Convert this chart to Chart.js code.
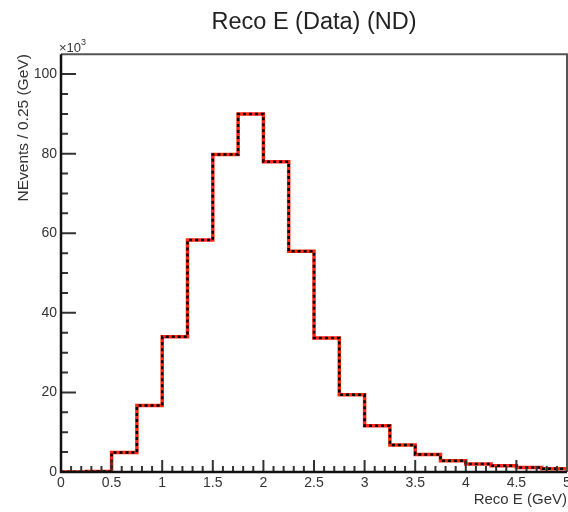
<!DOCTYPE html>
<html lang="en">

<head>
  <meta charset="UTF-8">
  <script src="https://cdn.jsdelivr.net/npm/chart.js"></script>
  <title>Reco E (Data) (ND)</title>
  <style>
    html, body { margin: 0; padding: 0; background: #fff; }
    #box { width: 568px; height: 512px; }
  </style>
</head>

<body>
  <div id="box">
    <canvas id="myChart" width="568" height="512"></canvas>
  </div>

  <script>
    // bin lower edges (GeV), 0.25 wide
    const binLow = [0, 0.25, 0.5, 0.75, 1.0, 1.25, 1.5, 1.75, 2.0, 2.25,
                    2.5, 2.75, 3.0, 3.25, 3.5, 3.75, 4.0, 4.25, 4.5, 4.75];
    const binWidth = 0.25;
    // events per bin, in units of 10^3
    const counts = [0, 0.1, 4.9, 16.7, 34.0, 58.3, 79.8, 90.0, 78.0, 55.5,
                    33.7, 19.4, 11.6, 6.8, 4.4, 2.8, 2.0, 1.6, 1.1, 0.8];

    const xMin = 0, xMax = 5;
    const yMin = 0, yMax = 105;
    const xMajor = 0.5, xMinor = 0.1;
    const yMajor = 20, yMinor = 5;

    const titleText = 'Reco E (Data) (ND)';
    const xTitle = 'Reco E (GeV)';
    const yTitle = 'NEvents / 0.25 (GeV)';

    // step points: one at each lower edge, plus closing point at the last upper edge
    const steps = binLow.map((x, i) => ({ x: x, y: counts[i] }));
    steps.push({ x: binLow[binLow.length - 1] + binWidth, y: counts[counts.length - 1] });

    const isMult = (v, m) => Math.abs(v / m - Math.round(v / m)) < 1e-6;
    const FONT = "'Liberation Sans', Helvetica, Arial, sans-serif";

    // ROOT style frame, inward ticks and x10^3 marker
    const rootFrame = {
      id: 'rootFrame',
      afterDatasetsDraw(chart) {
        const ctx = chart.ctx;
        const a = chart.chartArea;
        const xs = chart.scales.x, ys = chart.scales.y;
        ctx.save();

        // top and right frame
        ctx.strokeStyle = '#555';
        ctx.lineWidth = 2;
        ctx.beginPath();
        ctx.moveTo(a.left, a.top);
        ctx.lineTo(a.right, a.top);
        ctx.lineTo(a.right, a.bottom);
        ctx.stroke();

        // tick marks
        ctx.strokeStyle = '#333';
        ctx.lineWidth = 2;
        ctx.beginPath();
        xs.ticks.forEach(t => {
          if (t.value <= xMin || t.value >= xMax) return;
          const px = xs.getPixelForValue(t.value);
          const len = isMult(t.value, xMajor) ? 12 : 6;
          ctx.moveTo(px, a.bottom);
          ctx.lineTo(px, a.bottom - len);
        });
        ys.ticks.forEach(t => {
          if (t.value <= yMin || t.value >= yMax) return;
          const py = ys.getPixelForValue(t.value);
          const len = isMult(t.value, yMajor) ? 15 : 7;
          ctx.moveTo(a.left, py);
          ctx.lineTo(a.left + len, py);
        });
        ctx.stroke();

        // axes
        ctx.strokeStyle = '#111';
        ctx.lineWidth = 2.5;
        ctx.beginPath();
        ctx.moveTo(a.left, a.top);
        ctx.lineTo(a.left, a.bottom);
        ctx.lineTo(a.right, a.bottom);
        ctx.stroke();

        // exponent label
        ctx.fillStyle = '#333';
        ctx.textBaseline = 'alphabetic';
        ctx.textAlign = 'left';
        ctx.font = '13px ' + FONT;
        ctx.fillText('\u00d710', a.left - 2, a.top - 2);
        const w = ctx.measureText('\u00d710').width;
        ctx.font = '9px ' + FONT;
        ctx.fillText('3', a.left - 2 + w, a.top - 9);
        ctx.restore();
      }
    };

    const data = {
      datasets: [{
        label: 'data dashed',
        data: steps,
        stepped: 'before',
        borderColor: 'rgb(0, 0, 0)',
        borderWidth: 2.5,
        borderDash: [3, 3],
        pointRadius: 0,
        fill: false
      }, {
        label: 'data',
        data: steps,
        stepped: 'before',
        borderColor: 'rgb(255, 40, 20)',
        borderWidth: 3.5,
        pointRadius: 0,
        fill: false
      }]
    };

    const config = {
      type: 'line',
      data: data,
      options: {
        responsive: false,
        animation: false,
        layout: { padding: { left: 0, right: 1, top: 0, bottom: 0 } },
        plugins: {
          legend: { display: false },
          tooltip: { enabled: false },
          title: {
            display: true,
            text: titleText,
            color: '#222',
            fullSize: false,
            font: { family: FONT, size: 23.5, weight: 'normal' },
            padding: { top: 8, bottom: 18 }
          }
        },
        scales: {
          x: {
            type: 'linear',
            min: xMin,
            max: xMax,
            grid: { display: false, drawTicks: false, tickLength: 0 },
            border: { display: false },
            ticks: {
              stepSize: xMinor,
              autoSkip: false,
              maxRotation: 0,
              padding: 3,
              color: '#333',
              font: { family: FONT, size: 14 },
              callback: (v) => isMult(v, xMajor) ? String(Math.round(v * 10) / 10) : ''
            },
            title: {
              display: true,
              text: xTitle,
              align: 'end',
              color: '#333',
              font: { family: FONT, size: 15 },
              padding: { top: 0, bottom: 3 }
            },
            afterFit: (s) => { s.height = 40; s.paddingLeft = 0; s.paddingRight = 0; }
          },
          y: {
            min: yMin,
            max: yMax,
            grid: { display: false, drawTicks: false, tickLength: 0 },
            border: { display: false },
            ticks: {
              stepSize: yMinor,
              autoSkip: false,
              padding: 4,
              color: '#333',
              font: { family: FONT, size: 14 },
              callback: (v) => isMult(v, yMajor) ? String(v) : ''
            },
            title: {
              display: true,
              text: yTitle,
              align: 'end',
              color: '#333',
              font: { family: FONT, size: 15.5 },
              padding: { top: 14, bottom: 0 }
            },
            afterFit: (s) => { s.width = 61; s.paddingTop = 0; s.paddingBottom = 0; }
          }
        }
      },
      plugins: [rootFrame]
    };

    const myChart = new Chart(document.getElementById('myChart'), config);
  </script>
</body>

</html>
